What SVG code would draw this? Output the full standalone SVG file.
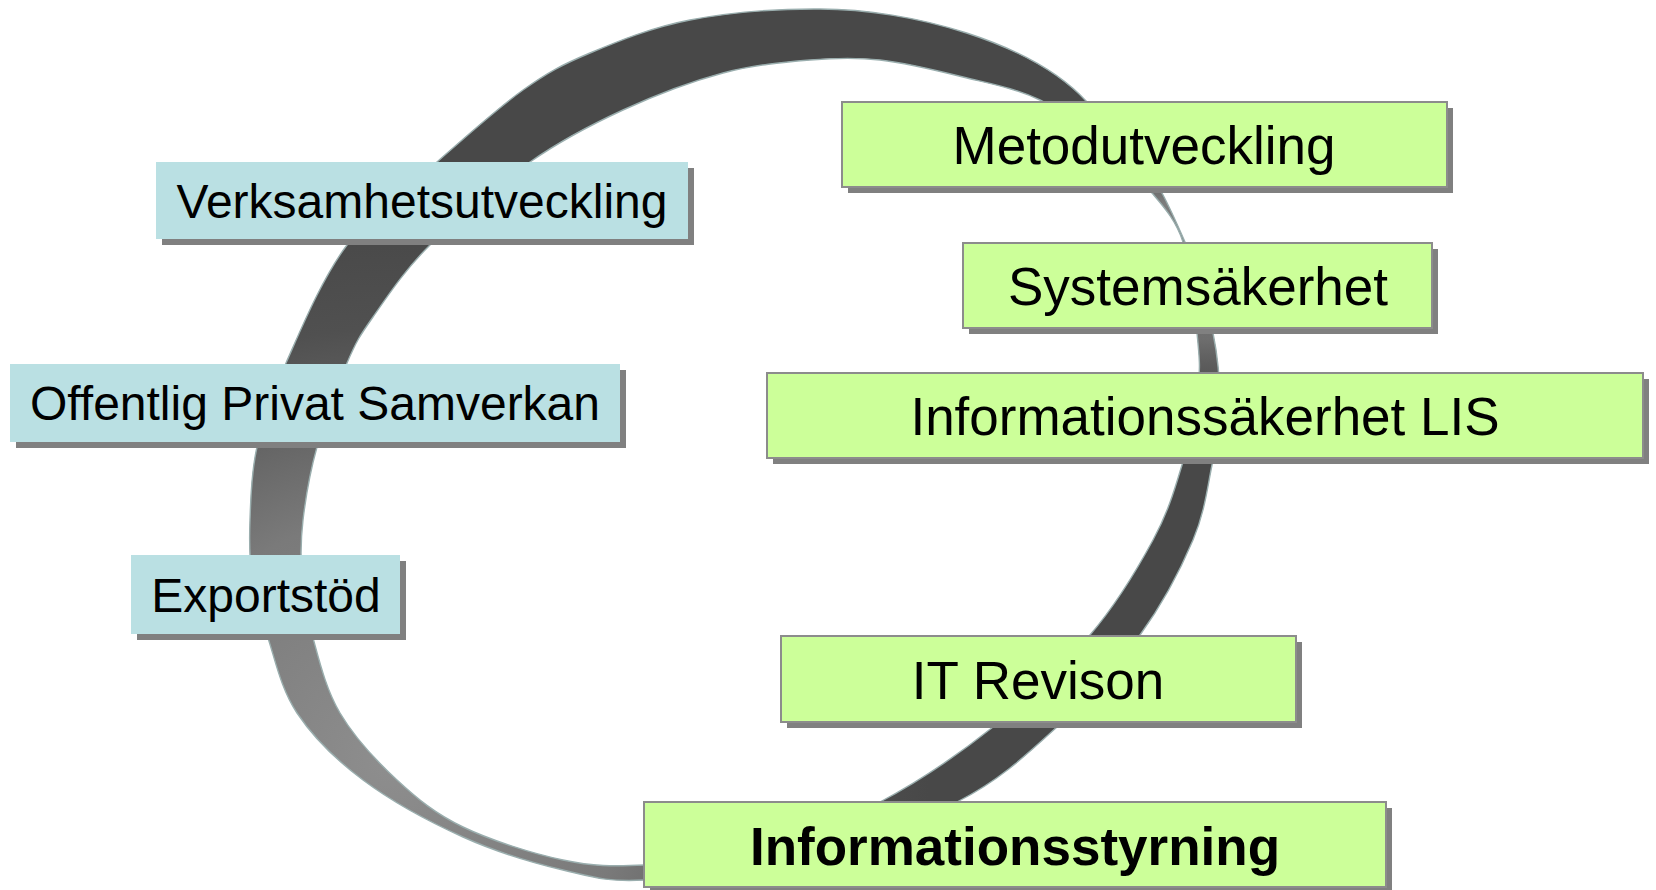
<svg xmlns="http://www.w3.org/2000/svg" width="1656" height="890" viewBox="0 0 1656 890">
<defs>
<style>
.shadow{fill:#808080}
.blue{fill:#BAE0E3}
.green{fill:#CCFF99;stroke:#8C8C8C;stroke-width:2}
.t{font-family:"Liberation Sans",Arial,sans-serif;fill:#000;text-anchor:middle}
.tb{font-size:48px}
.tg{font-size:53px}
.bold{font-weight:bold}
.edge{fill:none;stroke:#9AAEAE;stroke-width:1.4}
</style>
<radialGradient id="ringGrad" gradientUnits="userSpaceOnUse" cx="390" cy="760" r="540">
<stop offset="0" stop-color="#8E8E8E"/>
<stop offset="0.45" stop-color="#7A7A7A"/>
<stop offset="0.8" stop-color="#505050"/>
<stop offset="1" stop-color="#484848"/>
</radialGradient>
<linearGradient id="twistGrad" gradientUnits="userSpaceOnUse" x1="0" y1="150" x2="0" y2="420">
<stop offset="0" stop-color="#777" stop-opacity="0"/>
<stop offset="0.2" stop-color="#7C7C7C" stop-opacity="1"/>
<stop offset="0.7" stop-color="#6E6E6E" stop-opacity="1"/>
<stop offset="1" stop-color="#555" stop-opacity="0"/>
</linearGradient>
<clipPath id="rightClip"><rect x="1110" y="0" width="200" height="500"/></clipPath>
<path id="outerP" d="M250,520 C250.83,498.67 251,473.17 257,447 C263,420.83 271,396.33 286,363 C301,329.33 321.83,278.5 347,245 C372.17,211.5 407.67,187.83 437,162 C466.33,136.17 497.5,108.17 523,90 C548.5,71.83 562.17,64.67 590,53 C617.83,41.33 651.67,27.33 690,20 C728.33,12.67 777.5,8.67 820,9 C910,9 1032,42 1087,102 C1112,129 1145.67,169.67 1162,193 C1170,208 1178,226 1185,242 C1193.5,265.33 1207.17,305 1213,333 C1218.83,361 1220.17,388 1220,410 C1219.83,432 1216.5,443.33 1212,465 C1207.5,486.67 1205,511.67 1193,540 C1181,568.33 1162.67,603.83 1140,635 C1117.33,666.17 1087.5,699.17 1057,727 C1026.5,754.83 999.83,780.17 957,802 C914.17,823.83 852,845 800,858 C748,871 684.5,878 645,880 C605.5,882 593.33,877.17 563,870 C532.67,862.83 496.33,852 463,837 C429.67,822 390.67,800.67 363,780 C335.33,759.33 312.83,736.67 297,713 C281.17,689.33 275.5,661 268,638 C260.5,615 255,594.67 252,575 C249,555.33 249.17,541.33 250,520 Z"/>
<path id="innerP" d="M303,520 C305.5,498.67 309.67,473.17 317,447 C324.33,420.83 337.67,384.67 347,363 C356.33,341.33 359.17,336.67 373,317 C386.83,297.33 403.83,270.83 430,245 C456.17,219.17 497.83,184.5 530,162 C562.17,139.5 590.83,124.83 623,110 C655.17,95.17 691.83,81.33 723,73 C754.17,64.67 783.83,62.17 810,60 C836.17,57.83 854.5,57.17 880,60 C905.5,62.830 936.33,70.33 963,77 C989.67,83.67 1015,88 1040,100 C1070,115 1128,169 1152,193 C1163,206 1176,220 1183,242 C1190.5,265.33 1194.5,308.33 1197,333 C1199.5,357.67 1200.5,368 1198,390 C1195.5,412 1189.5,440 1182,465 C1174.5,490 1168.33,511.67 1153,540 C1137.67,568.33 1116.67,603.83 1090,635 C1063.33,666.17 1028,699.17 993,727 C958,754.83 918.83,781.5 880,802 C841.17,822.5 799.17,839.5 760,850 C720.83,860.5 677.83,863.33 645,865 C612.17,866.67 593.33,866.33 563,860 C532.67,853.67 490.67,840.33 463,827 C435.33,813.67 417.5,799 397,780 C376.5,761 354,736.67 340,713 C326,689.33 319.33,661 313,638 C306.67,615 303.67,594.67 302,575 C300.33,555.33 300.5,541.33 303,520 Z"/>
</defs>
<rect width="1656" height="890" fill="#FFFFFF"/>
<g id="ring">
<path fill="url(#ringGrad)" fill-rule="evenodd" d="M250,520 C250.83,498.67 251,473.17 257,447 C263,420.83 271,396.33 286,363 C301,329.33 321.83,278.5 347,245 C372.17,211.5 407.67,187.83 437,162 C466.33,136.17 497.5,108.17 523,90 C548.5,71.83 562.17,64.67 590,53 C617.83,41.33 651.67,27.33 690,20 C728.33,12.67 777.5,8.67 820,9 C910,9 1032,42 1087,102 C1112,129 1145.67,169.67 1162,193 C1170,208 1178,226 1185,242 C1193.5,265.33 1207.17,305 1213,333 C1218.83,361 1220.17,388 1220,410 C1219.83,432 1216.5,443.33 1212,465 C1207.5,486.67 1205,511.67 1193,540 C1181,568.33 1162.67,603.83 1140,635 C1117.33,666.17 1087.5,699.17 1057,727 C1026.5,754.83 999.83,780.17 957,802 C914.17,823.83 852,845 800,858 C748,871 684.5,878 645,880 C605.5,882 593.33,877.17 563,870 C532.67,862.83 496.33,852 463,837 C429.67,822 390.67,800.67 363,780 C335.33,759.33 312.83,736.67 297,713 C281.17,689.33 275.5,661 268,638 C260.5,615 255,594.67 252,575 C249,555.33 249.17,541.33 250,520 Z M303,520 C305.5,498.67 309.67,473.17 317,447 C324.33,420.83 337.67,384.67 347,363 C356.33,341.33 359.17,336.67 373,317 C386.83,297.33 403.83,270.83 430,245 C456.17,219.17 497.83,184.5 530,162 C562.17,139.5 590.83,124.83 623,110 C655.17,95.17 691.83,81.33 723,73 C754.17,64.67 783.83,62.17 810,60 C836.17,57.83 854.5,57.17 880,60 C905.5,62.83 936.33,70.33 963,77 C989.67,83.67 1015,88 1040,100 C1070,115 1128,169 1152,193 C1163,206 1176,220 1183,242 C1190.5,265.33 1194.5,308.33 1197,333 C1199.5,357.67 1200.5,368 1198,390 C1195.5,412 1189.5,440 1182,465 C1174.5,490 1168.33,511.67 1153,540 C1137.67,568.33 1116.67,603.83 1090,635 C1063.33,666.17 1028,699.17 993,727 C958,754.83 918.83,781.5 880,802 C841.17,822.5 799.17,839.5 760,850 C720.83,860.5 677.83,863.33 645,865 C612.17,866.67 593.33,866.33 563,860 C532.67,853.67 490.67,840.33 463,827 C435.33,813.67 417.5,799 397,780 C376.5,761 354,736.67 340,713 C326,689.33 319.33,661 313,638 C306.67,615 303.67,594.67 302,575 C300.33,555.33 300.5,541.33 303,520 Z"/>
<g clip-path="url(#rightClip)">
<path fill="url(#twistGrad)" d="M1087,102 C1112,129 1145.67,169.67 1162,193 C1170,208 1178,226 1185,242 C1193.5,265.33 1207.17,305 1213,333 C1218.83,361 1220.17,388 1220,410 L1198,390 C1200.5,368 1199.5,357.67 1197,333 C1194.5,308.33 1190.5,265.33 1183,242 C1176,220 1163,206 1152,193 C1128,169 1070,115 1040,100 Z"/>
</g>
<use href="#outerP" class="edge"/>
<use href="#innerP" class="edge"/>
</g>
<g id="node-verksamhetsutveckling">
<rect class="shadow" x="162" y="168" width="532" height="77"/>
<rect class="blue" x="156" y="162" width="532" height="77"/>
<text class="t tb" x="422" y="218">Verksamhetsutveckling</text>
</g>
<g id="node-offentlig-privat-samverkan">
<rect class="shadow" x="16" y="370" width="610" height="78"/>
<rect class="blue" x="10" y="364" width="610" height="78"/>
<text class="t tb" x="315" y="420">Offentlig Privat Samverkan</text>
</g>
<g id="node-exportstod">
<rect class="shadow" x="137" y="561" width="269" height="79"/>
<rect class="blue" x="131" y="555" width="269" height="79"/>
<text class="t tb" x="266" y="612">Exportstöd</text>
</g>
<g id="node-metodutveckling">
<rect class="shadow" x="848" y="108" width="605" height="85"/>
<rect class="green" x="842" y="102" width="605" height="85"/>
<text class="t tg" x="1144" y="164">Metodutveckling</text>
</g>
<g id="node-systemsakerhet">
<rect class="shadow" x="969" y="249" width="469" height="85"/>
<rect class="green" x="963" y="243" width="469" height="85"/>
<text class="t tg" x="1198" y="305">Systemsäkerhet</text>
</g>
<g id="node-informationssakerhet-lis">
<rect class="shadow" x="773" y="379" width="876" height="85"/>
<rect class="green" x="767" y="373" width="876" height="85"/>
<text class="t tg" x="1205" y="435">Informationssäkerhet LIS</text>
</g>
<g id="node-it-revison">
<rect class="shadow" x="787" y="642" width="515" height="86"/>
<rect class="green" x="781" y="636" width="515" height="86"/>
<text class="t tg" x="1038" y="699">IT Revison</text>
</g>
<g id="node-informationsstyrning">
<rect class="shadow" x="650" y="808" width="742" height="85"/>
<rect class="green" x="644" y="802" width="742" height="85"/>
<text class="t tg bold" x="1015" y="865">Informationsstyrning</text>
</g>
</svg>
